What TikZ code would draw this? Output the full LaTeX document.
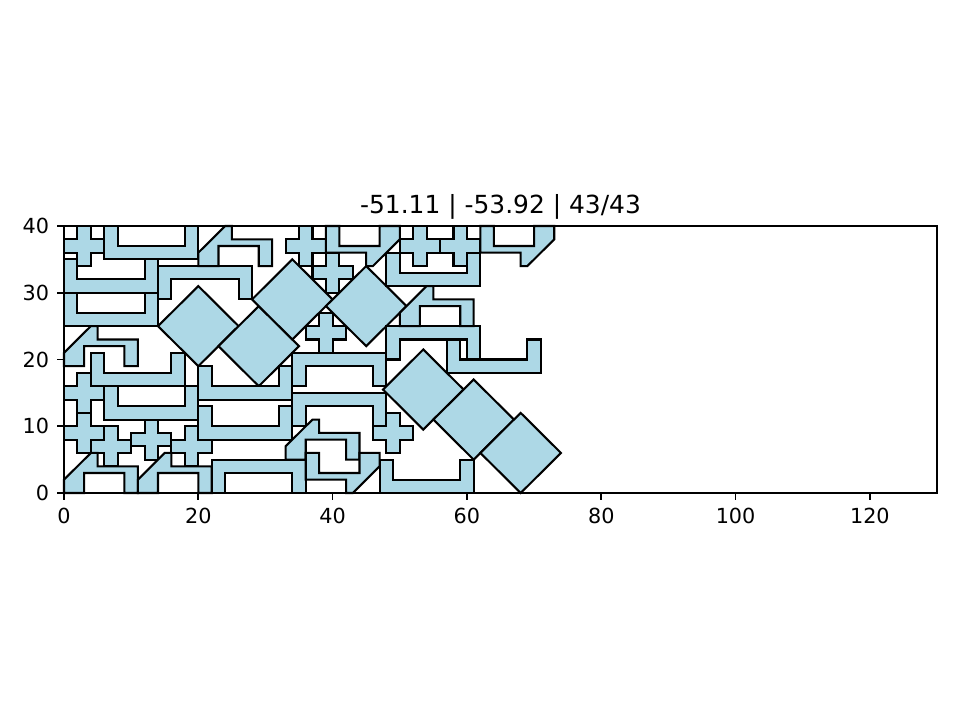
\documentclass[tikz,border=0pt]{standalone}
\usepackage{fontspec}
\setmainfont{DejaVu Sans}
\usepackage{tikz}
\definecolor{lightblue}{HTML}{ADD8E6}
\tikzset{
  piece/.style={draw=black, fill=lightblue, line width=1pt},
  spine/.style={draw=black, line width=0.8pt},
  tickmark/.style={draw=black, line width=0.8pt},
  ticklabel/.style={font=\fontsize{10}{12}\selectfont, inner sep=0pt},
}
\begin{document}
\begin{tikzpicture}[x=0.48bp, y=0.48bp]
  \useasboundingbox (0,0) rectangle (960,720);
  \begin{scope}[shift={(64,227)}, x=3.2234bp, y=3.204bp]
    % crosses
    \foreach \cx/\cy in {3/37, 36/37, 40/33, 53/37, 59/37, 39/24, 3/15, 3/9, 7/7, 13/8, 19/7, 49/9}
      \draw[piece] (\cx-1,\cy-3) -- ++(2,0) -- ++(0,2) -- ++(2,0) -- ++(0,2) -- ++(-2,0) -- ++(0,2)
        -- ++(-2,0) -- ++(0,-2) -- ++(-2,0) -- ++(0,-2) -- ++(2,0) -- cycle;
    % diamonds
    \foreach \cx/\cy in {20/25, 29/22, 34/29, 45/28, 53.5/15.5, 61/11, 68/6}
      \draw[piece] (\cx-6,\cy) -- ++(6,6) -- ++(6,-6) -- ++(-6,-6) -- cycle;
    % u pieces, open upwards
    \foreach \ux/\uy in {6/35, 0/30, 0/25, 4/16, 20/14, 57/18, 47/0, 6/11, 20/8, 48/31}
      \draw[piece] (\ux,\uy) -- ++(14,0) -- ++(0,5) -- ++(-2,0) -- ++(0,-3) -- ++(-10,0) -- ++(0,3)
        -- ++(-2,0) -- cycle;
    % u pieces, open downwards
    \foreach \ux/\uy in {14/29, 34/16, 48/20, 22/0, 34/10}
      \draw[piece] (\ux,\uy+5) -- ++(14,0) -- ++(0,-5) -- ++(-2,0) -- ++(0,3) -- ++(-10,0) -- ++(0,-3)
        -- ++(-2,0) -- cycle;
    % hooks
    \foreach \hx/\hy in {20/34, 0/19, 0/0, 11/0, 33/5, 50/25}
      \draw[piece] (\hx,\hy) -- ++(0,2) -- ++(4,4) -- ++(1,0) -- ++(0,-2) -- ++(6,0) -- ++(0,-4)
        -- ++(-2,0) -- ++(0,3) -- ++(-6,0) -- ++(0,-3) -- cycle;
    % hooks turned round
    \foreach \hx/\hy in {39/34, 62/34, 36/0}
      \draw[piece] (\hx+11,\hy+6) -- ++(0,-2) -- ++(-4,-4) -- ++(-1,0) -- ++(0,2) -- ++(-6,0) -- ++(0,4)
        -- ++(2,0) -- ++(0,-3) -- ++(6,0) -- ++(0,3) -- cycle;
    % axes
    \draw[spine] (0,0) rectangle (130,40);
    \foreach \t in {0,20,...,120} {
      \draw[tickmark] (\t,0) -- ++(0,-3.5pt);
      \node[ticklabel, anchor=north] (xt\t) at ([yshift=-7pt]\t,0) {\t};
    }
    \foreach \t in {0,10,...,40} {
      \draw[tickmark] (0,\t) -- ++(-3.5pt,0);
      \node[ticklabel, anchor=east] (yt\t) at ([xshift=-7pt]0,\t) {\t};
    }
    \node[font=\fontsize{12}{14}\selectfont, inner sep=0pt, anchor=base] (title)
      at ([yshift=6pt]65,40) {-51.11 | -53.92 | 43/43};
  \end{scope}
\end{tikzpicture}
\end{document}
